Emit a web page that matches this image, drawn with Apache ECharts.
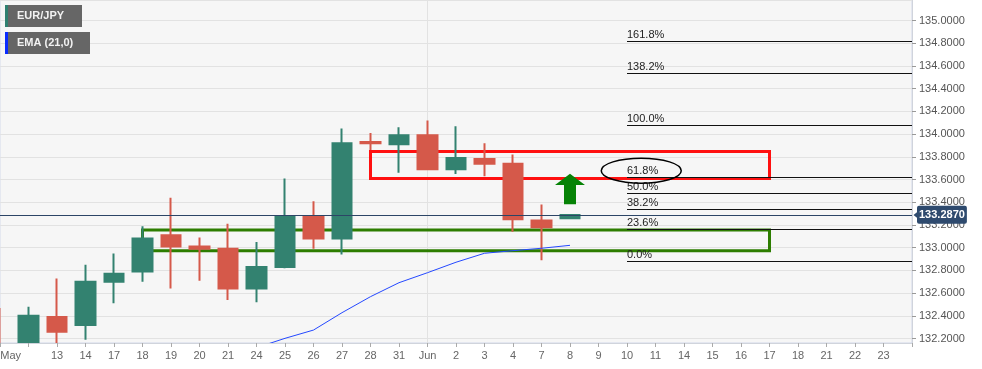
<!DOCTYPE html>
<html>
<head>
<meta charset="utf-8">
<script src="https://cdn.jsdelivr.net/npm/echarts@6.0.0/dist/echarts.min.js"></script>
<style>
html,body{margin:0;padding:0;background:#fff;}
#chart{width:982px;height:369px;}
</style>
</head>
<body>
<div id="chart"></div>
<script>
// ---- data ----
const dates = ['2021-05-11','2021-05-12','2021-05-13','2021-05-14','2021-05-17','2021-05-18','2021-05-19','2021-05-20','2021-05-21','2021-05-24','2021-05-25','2021-05-26','2021-05-27','2021-05-28','2021-05-31','2021-06-01','2021-06-02','2021-06-03','2021-06-04','2021-06-07','2021-06-08','2021-06-09','2021-06-10','2021-06-11','2021-06-14','2021-06-15','2021-06-16','2021-06-17','2021-06-18','2021-06-21','2021-06-22','2021-06-23','2021-06-24'];
const tickLabels = ['May','','13','14','17','18','19','20','21','24','25','26','27','28','31','Jun','2','3','4','7','8','9','10','11','14','15','16','17','18','21','22','23',''];
const opens  = [132.12,132.00,132.39,132.32,132.70,132.79,133.11,133.01,132.99,132.64,132.83,133.28,133.08,133.93,133.91,133.99,133.69,133.78,133.74,133.24,133.26];
const closes = [131.98,132.40,132.26,132.70,132.77,133.08,133.01,132.99,132.64,132.83,133.27,133.08,133.92,133.92,133.99,133.69,133.79,133.74,133.25,133.18,133.287];
const lows   = [131.90,131.95,132.12,132.19,132.51,132.70,132.64,132.71,132.54,132.52,132.82,132.99,132.94,133.86,133.66,133.69,133.65,133.63,133.14,132.89,133.26];
const highs  = [132.47,132.48,132.73,132.85,132.95,133.19,133.44,133.09,133.21,133.05,133.61,133.41,134.05,134.01,134.06,134.12,134.07,133.92,133.82,133.38,133.287];
const ema    = [null,null,null,null,null,null,null,null,132.07,132.12,132.202,132.275,132.428,132.569,132.692,132.780,132.872,132.951,132.974,132.995,133.021];
const fibLabels = ['161.8%','138.2%','100.0%','61.8%','50.0%','38.2%','23.6%','0.0%'];
const fibValues = [134.815,134.535,134.078,133.622,133.480,133.338,133.162,132.883];
const lastPrice = 133.287;
const fibStart = '2021-06-10', fibEnd = '2021-06-24';
// annotation zones (category start/end, value top/bottom)
const redZone   = ['2021-05-28','2021-06-17',133.846,133.610];
const greenZone = ['2021-05-18','2021-06-17',133.156,132.974];
const arrowAt   = ['2021-06-08',133.652,133.552,133.382];
const ellipseAt = ['2021-06-10','2021-06-11',133.678];

const candleData = opens.map((o,i)=>[o,closes[i],lows[i],highs[i]]);

const chart = echarts.init(document.getElementById('chart'));
const FONT = '"Liberation Sans", Arial, sans-serif';

const fibLines = fibValues.map((v,i)=>[
  {coord:[fibStart,v], label:{formatter:fibLabels[i]}},
  {coord:[fibEnd,v]}
]);

chart.setOption({
  animation:false,
  backgroundColor:'#ffffff',
  grid:{left:0,right:70,top:0,bottom:26,containLabel:false,outerBoundsMode:'none',show:true,backgroundColor:'#f6f6f6',borderColor:'#d3d9ea',borderWidth:1},
  xAxis:[{
    type:'category',data:dates,boundaryGap:false,z:10,
    axisLine:{show:true,lineStyle:{color:'#d0d4dc'}},
    axisTick:{show:true,alignWithLabel:true,length:4,lineStyle:{color:'#aaa'},interval:0},
    axisLabel:{interval:0,color:'#666',fontSize:11,fontFamily:FONT,margin:7,hideOverlap:false,
      formatter:(v,i)=> i===0 ? '{l|'+tickLabels[i]+'}' : tickLabels[i],
      rich:{l:{width:42,align:'right',color:'#666',fontSize:11,fontFamily:FONT}}},
    splitLine:{show:false}
  },{
    type:'category',data:dates,boundaryGap:false,z:0,position:'bottom',
    axisLine:{show:false},axisTick:{show:false},axisLabel:{show:false},
    splitLine:{show:true,interval:(i)=>i===15,lineStyle:{color:'#e2e2e2'}}
  }],
  yAxis:{
    type:'value',position:'right',scale:true,min:132.161,max:135.181,
    splitNumber:15,minInterval:0.2,maxInterval:0.2,
    axisLine:{show:true,lineStyle:{color:'#d0d4dc'}},
    axisTick:{show:true,length:4,lineStyle:{color:'#999'}},
    axisLabel:{color:'#555',fontSize:11,fontFamily:FONT,margin:7,showMinLabel:false,showMaxLabel:false,
      formatter:v=>v.toFixed(4)},
    splitLine:{show:true,lineStyle:{color:'#e2e2e2'}}
  },
  series:[
    {
      type:'candlestick',data:candleData,barWidth:20,clip:false,xAxisIndex:0,
      itemStyle:{color:'#338270',color0:'#d5594a',borderColor:'#338270',borderColor0:'#d5594a',borderWidth:2},
      markLine:{
        silent:true,symbol:['none','none'],animation:false,
        data:[
          {yAxis:lastPrice,lineStyle:{color:'#2c4566',width:1,type:'solid'},
           label:{show:true,position:'end',distance:5,formatter:lastPrice.toFixed(4),backgroundColor:'#2e4a6e',color:'#fff',
             fontWeight:'bold',fontSize:11,fontFamily:FONT,padding:[4,2,3,2],borderRadius:2}},
          ...fibLines.map(p=>[
            Object.assign({},p[0],{lineStyle:{color:'#111',width:1,type:'solid'},
              label:{show:true,position:'insideStartTop',distance:[0,1],formatter:p[0].label.formatter,color:'#222',fontSize:11,fontFamily:FONT}}),
            p[1]])
        ]
      },
      markArea:{
        silent:true,
        data:[
          [{xAxis:redZone[0],yAxis:redZone[2],itemStyle:{color:'rgba(0,0,0,0)',borderColor:'#ff1010',borderWidth:3}},{xAxis:redZone[1],yAxis:redZone[3]}],
          [{xAxis:greenZone[0],yAxis:greenZone[2],itemStyle:{color:'rgba(0,0,0,0)',borderColor:'#2d7d00',borderWidth:3}},{xAxis:greenZone[1],yAxis:greenZone[3]}]
        ]
      },
      markPoint:{
        silent:true,
        data:[{coord:[dates[dates.length-1],lastPrice],symbol:'triangle',symbolSize:[8,5],symbolRotate:90,symbolOffset:[4,0],
          itemStyle:{color:'#2e4a6e'},label:{show:false}}]
      }
    },
    {
      type:'line',data:ema,showSymbol:false,symbol:'none',smooth:false,xAxisIndex:0,
      lineStyle:{color:'#2448ff',width:1},clip:true,z:3
    }
  ]
});

// annotations positioned through the chart's scales
const conv = (c,v)=>chart.convertToPixel({xAxisIndex:0,yAxisIndex:0},[c,v]);
const tip = conv(arrowAt[0],arrowAt[1]);
const hb  = conv(arrowAt[0],arrowAt[2]);
const bot = conv(arrowAt[0],arrowAt[3]);
const e1  = conv(ellipseAt[0],ellipseAt[2]);
const e2  = conv(ellipseAt[1],ellipseAt[2]);
const cx = (e1[0]+e2[0])/2, cy = e1[1];
const gBottom = conv(dates[0],132.161)[1];
const gRight = conv(dates[dates.length-1],132.161)[0];

chart.setOption({
  graphic:[
    {type:'rect',z:5,shape:{x:-2,y:gBottom+0.5,width:gRight+2,height:369-gBottom},style:{fill:'#ffffff'}},
    {type:'polygon',z:100,shape:{points:[[tip[0],tip[1]],[tip[0]+15,hb[1]],[tip[0]+6,hb[1]],[tip[0]+6,bot[1]],[tip[0]-6,bot[1]],[tip[0]-6,hb[1]],[tip[0]-15,hb[1]]]},style:{fill:'#068206'}},
    {type:'ellipse',z:100,shape:{cx:cx,cy:cy,rx:40,ry:12.5},style:{fill:'none',stroke:'#000',lineWidth:1.5}},
    {type:'rect',z:100,shape:{x:5,y:5,width:77,height:22},style:{fill:'#666666'}},
    {type:'rect',z:101,shape:{x:5,y:5,width:3,height:22},style:{fill:'#2f8070'}},
    {type:'text',z:102,x:17,y:16,style:{text:'EUR/JPY',fill:'#f2f2f2',font:'bold 11px '+FONT,verticalAlign:'middle'}},
    {type:'rect',z:100,shape:{x:5,y:32,width:85,height:22},style:{fill:'#666666'}},
    {type:'rect',z:101,shape:{x:5,y:32,width:3,height:22},style:{fill:'#0a2cff'}},
    {type:'text',z:102,x:17,y:43,style:{text:'EMA (21,0)',fill:'#f2f2f2',font:'bold 11px '+FONT,verticalAlign:'middle'}}
  ]
});
</script>
</body>
</html>
